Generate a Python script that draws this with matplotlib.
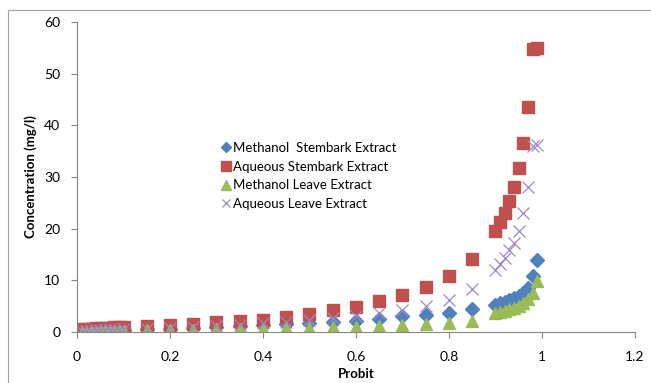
import matplotlib
matplotlib.use("Agg")
import matplotlib.pyplot as plt
from matplotlib.patches import Rectangle

# probit values (x)
probit = [0.01, 0.02, 0.03, 0.04, 0.05, 0.06, 0.07, 0.08, 0.09, 0.10,
          0.15, 0.20, 0.25, 0.30, 0.35, 0.40, 0.45, 0.50, 0.55, 0.60,
          0.65, 0.70, 0.75, 0.80, 0.85,
          0.90, 0.91, 0.92, 0.93, 0.94, 0.95, 0.96, 0.97, 0.98, 0.99]

# concentrations (mg/l)
meth_stembark = [0.10, 0.13, 0.16, 0.19, 0.22, 0.25, 0.28, 0.31, 0.34, 0.37,
                 0.50, 0.62, 0.78, 0.92, 1.10, 1.30, 1.55, 1.80, 2.00, 2.20,
                 2.60, 3.00, 3.30, 3.70, 4.40,
                 5.30, 5.60, 5.90, 6.20, 6.60, 7.00, 7.60, 8.50, 10.8, 14.0]
aq_stembark = [0.50, 0.56, 0.62, 0.68, 0.74, 0.80, 0.85, 0.90, 0.95, 1.00,
               1.10, 1.36, 1.60, 1.90, 2.10, 2.40, 2.90, 3.40, 4.20, 4.80,
               6.00, 7.20, 8.70, 10.8, 14.1,
               19.5, 21.2, 23.0, 25.3, 28.0, 31.7, 36.5, 43.5, 54.7, 54.9]
meth_leave = [0.05, 0.06, 0.07, 0.08, 0.09, 0.10, 0.11, 0.12, 0.13, 0.14,
              0.30, 0.38, 0.45, 0.52, 0.60, 0.66, 0.73, 0.80, 0.90, 1.00,
              1.10, 1.30, 1.50, 1.80, 2.10,
              3.60, 3.80, 4.10, 4.40, 4.70, 5.10, 5.60, 6.40, 7.60, 9.80]
aq_leave = [0.20, 0.23, 0.26, 0.29, 0.32, 0.35, 0.38, 0.41, 0.45, 0.50,
            0.60, 0.80, 1.00, 1.20, 1.40, 1.70, 2.00, 2.30, 2.70, 3.00,
            3.60, 4.20, 5.00, 6.20, 8.30,
            12.0, 13.2, 14.4, 15.8, 17.3, 19.6, 23.0, 28.1, 36.0, 36.2]

plt.rcParams['font.family'] = ['Lato', 'DejaVu Sans']

fig = plt.figure(figsize=(6.51, 3.83), dpi=100)
ax = fig.add_axes([0.1183, 0.1332, 0.857, 0.8094])

# light chart border like the Excel chart area
fig.patches.append(Rectangle((8/651, -0.1), 1.2, 1 - 10/383 + 0.1, transform=fig.transFigure,
                             fill=False, edgecolor='#a0a0a0', linewidth=0.8))

ax.plot(probit, meth_stembark, linestyle='none', marker='D', markersize=7,
        color='#4F81BD', label='Methanol  Stembark Extract')
ax.plot(probit, aq_stembark, linestyle='none', marker='s', markersize=8.5,
        color='#C0504D', label='Aqueous Stembark Extract')
ax.plot(probit, meth_leave, linestyle='none', marker='^', markersize=8.5,
        color='#9BBB59', label='Methanol Leave Extract')
ax.plot(probit, aq_leave, linestyle='none', marker='x', markersize=8,
        markeredgewidth=0.9, color='#9C88C4', label='Aqueous Leave Extract')

ax.set_xlim(0, 1.2)
ax.set_ylim(0, 60)
ax.set_xticks([0, 0.2, 0.4, 0.6, 0.8, 1, 1.2])
ax.set_xticklabels(['0', '0.2', '0.4', '0.6', '0.8', '1', '1.2'])
ax.set_yticks([0, 10, 20, 30, 40, 50, 60])

for s in ['top', 'right']:
    ax.spines[s].set_visible(False)
for s in ['left', 'bottom']:
    ax.spines[s].set_color('#868686')
    ax.spines[s].set_linewidth(0.8)
ax.tick_params(axis='both', colors='#868686', labelcolor='black', labelsize=10,
               length=4, width=0.8)
ax.tick_params(axis='x', pad=10)
ax.tick_params(axis='y', pad=8)

ax.set_xlabel('Probit', fontsize=9.5, fontweight='bold', labelpad=3)
ax.set_ylabel('Concentration (mg/l)', fontsize=9.5, fontweight='bold', labelpad=5)

ax.legend(loc='upper left', bbox_to_anchor=(0.245, 0.63), frameon=False,
          fontsize=9.5, handletextpad=0.0, labelspacing=0.5, handlelength=1.1,
          markerscale=0.8, borderaxespad=0)

fig.savefig('out.png', dpi=100)
